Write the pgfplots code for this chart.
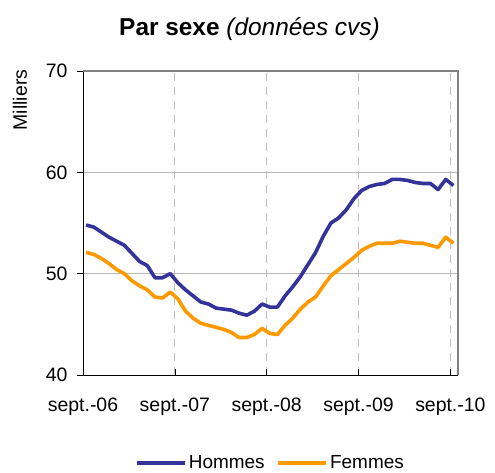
\documentclass[border=0pt]{standalone}
\usepackage{pgfplots}
\pgfplotsset{compat=1.18}
\usepackage{pgfplotstable}
\usepackage{fontspec}
\setmainfont{Liberation Sans}
\definecolor{hom}{HTML}{333399}
\definecolor{fem}{HTML}{FF9900}
\pgfplotstableread{
m hommes femmes
0.4 54.8 52.1
1.4 54.6 51.9
2.4 54.1 51.5
3.4 53.6 51.0
4.4 53.2 50.4
5.4 52.8 50.0
6.4 52.0 49.3
7.4 51.2 48.8
8.4 50.8 48.4
9.4 49.6 47.7
10.4 49.6 47.6
11.4 50.0 48.2
12.4 49.1 47.5
13.4 48.4 46.3
14.4 47.8 45.6
15.4 47.2 45.1
16.4 47.0 44.9
17.4 46.6 44.7
18.4 46.5 44.5
19.4 46.4 44.2
20.4 46.1 43.7
21.4 45.9 43.7
22.4 46.3 44.0
23.4 47.0 44.6
24.4 46.7 44.1
25.4 46.7 44.0
26.4 47.8 44.9
27.4 48.7 45.6
28.4 49.7 46.5
29.4 50.9 47.2
30.4 52.1 47.7
31.4 53.7 48.8
32.4 55.0 49.8
33.4 55.5 50.4
34.4 56.3 51.0
35.4 57.4 51.6
36.4 58.2 52.3
37.4 58.6 52.7
38.4 58.8 53.0
39.4 58.9 53.0
40.4 59.3 53.0
41.4 59.3 53.2
42.4 59.2 53.1
43.4 59.0 53.0
44.4 58.9 53.0
45.4 58.9 52.8
46.4 58.3 52.6
47.4 59.3 53.6
48.4 58.7 53.0
}\data
\begin{document}
\begin{tikzpicture}
\begin{axis}[
  name=ax,
  scale only axis,
  width=375bp, height=304bp,
  xmin=0, xmax=49, ymin=40, ymax=70,
  axis x line*=bottom, axis y line*=left,
  axis line style={black, line width=0.8bp},
  xtick={0,12,24,36,48},
  xticklabels={sept.-06,sept.-07,sept.-08,sept.-09,sept.-10},
  ytick={40,50,60,70},
  xtick align=inside, ytick align=outside,
  major tick length=6bp,
  tick style={black, line width=0.6bp},
  /pgf/number format/assume math mode=true,
  tick label style={font=\fontsize{19.5}{23}\selectfont},
  xticklabel style={yshift=-19bp},
  yticklabel style={xshift=-6bp},
  xmajorgrids, ymajorgrids,
  x grid style={dashed, dash pattern=on 8bp off 6bp, draw=black!25, line width=0.8bp},
  y grid style={solid, draw=black!28, line width=0.8bp},
  clip=false,
  legend columns=2,
  legend style={at={(0.5,-0.29)}, anchor=center, draw=none, fill=none,
    font=\fontsize{19}{23}\selectfont,
    /tikz/every even column/.append style={column sep=10bp},
    inner sep=0pt},
  legend image code/.code={\draw[#1] (0bp,0bp) -- (48bp,0bp);},
]
\draw[draw=black!50, line width=1.2bp] (rel axis cs:0,1) -- (rel axis cs:1,1) -- (rel axis cs:1,0);
\addplot[hom, line width=3.6bp, line join=round] table[x=m, y=hommes] {\data};
\addlegendentry{Hommes}
\addplot[fem, line width=3.6bp, line join=round] table[x=m, y=femmes] {\data};
\addlegendentry{Femmes}
\end{axis}
\node[anchor=base, font=\fontsize{24.5}{29}\selectfont] at ([shift={(-21bp,36bp)}]ax.north) {\textbf{Par sexe} \textit{(données cvs)}};
\node[rotate=90, font=\fontsize{19.5}{23}\selectfont] at ([shift={(-63bp,-29bp)}]ax.north west) {Milliers};
\path ([shift={(-83bp,-98bp)}]ax.south west) rectangle ([shift={(37bp,71bp)}]ax.north east);
\end{tikzpicture}
\end{document}
